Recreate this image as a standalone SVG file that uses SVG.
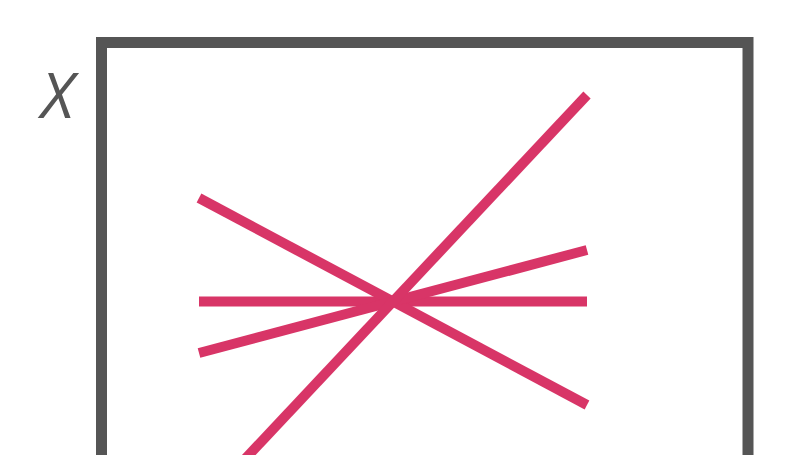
<svg xmlns="http://www.w3.org/2000/svg" width="808" height="455" viewBox="0 0 808 455">
<style>
.frame{fill:none;stroke:#555555;stroke-width:11}
.ln{stroke:#d83567;stroke-width:10;stroke-linecap:butt;fill:none}
.lbl{font-family:"Open Sans","Liberation Sans",sans-serif;font-style:italic;font-weight:400;font-size:63px;fill:#555555}
</style>
<rect width="808" height="455" fill="#ffffff"/>
<g id="frame">
<rect class="frame" x="101.5" y="42.5" width="646.5" height="460"/>
<text class="lbl" x="41" y="118">X</text>
</g>
<g id="connectors">
<line class="ln" x1="199" y1="301.5" x2="587" y2="301.5"/>
<line class="ln" x1="199" y1="198" x2="587" y2="405"/>
<line class="ln" x1="199" y1="353" x2="587" y2="250"/>
<line class="ln" x1="199" y1="508" x2="587" y2="95"/>
</g>
</svg>
